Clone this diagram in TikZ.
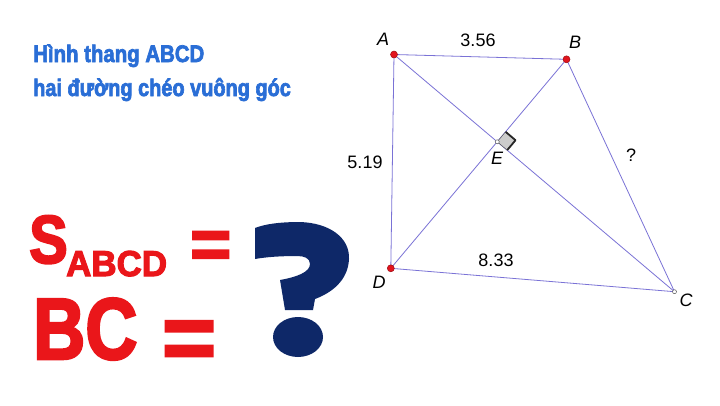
\documentclass[tikz,border=0pt]{standalone}
\usepackage{fontspec}
\setmainfont{Liberation Sans}
\newfontfamily\heavy[FakeBold=3]{Liberation Sans Bold}
\usepackage{graphicx}
\usetikzlibrary{calc}
\definecolor{tblue}{RGB}{42,110,214}
\definecolor{tred}{RGB}{234,22,26}
\definecolor{navy}{RGB}{14,40,104}
\definecolor{seg}{RGB}{122,114,214}
\definecolor{ptred}{RGB}{226,20,30}
\begin{document}
\begin{tikzpicture}[x=1pt,y=-1pt,
  seg/.style={draw=seg,line width=0.8pt},
  vpt/.style={circle,fill=ptred,draw=ptred!70!black,line width=0.5pt,inner sep=0pt,minimum size=7pt},
  opt/.style={circle,fill=white,draw=gray!70!black,line width=0.5pt,inner sep=0pt,minimum size=4pt},
  lab/.style={inner sep=0pt,font=\fontsize{18}{18}\selectfont\itshape},
  num/.style={inner sep=0pt,font=\fontsize{18}{18}\selectfont},
  title/.style={inner sep=0pt,anchor=base west,text=tblue,font=\fontsize{24}{24}\heavy},
  big/.style={inner sep=0pt,anchor=base west,text=tred,font=\heavy}]
\useasboundingbox (0,0) rectangle (720,405);
\fill[white] (0,0) rectangle (720,405);
% geometry
\coordinate (A) at (394,54.5);
\coordinate (B) at (566.5,59.3);
\coordinate (C) at (674.5,291.7);
\coordinate (D) at (390.8,268.3);
\coordinate (E) at (intersection of A--C and B--D);
\draw[seg] (A) -- (B) -- (C) -- (D) -- cycle;
\draw[seg] (A) -- (C);
\draw[seg] (B) -- (D);
% right angle marker
\coordinate (r1) at ($(E)!13pt!(B)$);
\coordinate (r3) at ($(E)!13pt!(C)$);
\coordinate (r2) at ($(r1)+(r3)-(E)$);
\fill[gray!40] (E) -- (r1) -- (r2) -- (r3) -- cycle;
\draw[black!85,line width=1.8pt,line join=round] (r1) -- (r2) -- (r3);
\draw[gray!60!black,line width=0.4pt] (E) -- (r1) (E) -- (r3);
% points
\node[vpt] (pA) at (A) {};
\node[vpt] (pB) at (B) {};
\node[vpt] (pD) at (D) {};
\node[opt] (pC) at (C) {};
\node[opt] (pE) at (E) {};
% labels
\node[lab] (lA) at (383,39) {A};
\node[lab] (lB) at (575,42) {B};
\node[lab] (lC) at (686,300) {C};
\node[lab] (lD) at (379,282) {D};
\node[lab] (lE) at (497,158) {E};
\node[num] (n356) at (478,40) {3.56};
\node[num] (n833) at (496,260) {8.33};
\node[num] (n519) at (365,162) {5.19};
\node[num] (nq) at (631,155) {?};
% titles
\node[title] (t1) at (33,62) {\scalebox{0.85}[1]{Hình thang ABCD}};
\node[title] (t2) at (33,96) {\scalebox{0.83}[1]{hai đường chéo vuông góc}};
% big red text
\node[big] (S) at (29,263) {\fontsize{68}{68}\selectfont\scalebox{0.85}[1]{S}};
\node[big] (sub) at (66,276) {\fontsize{36}{36}\selectfont\scalebox{0.97}[1]{ABCD}};
\node[big] (eq1) at (190,268) {\fontsize{70}{70}\selectfont =};
\node[big] (BC) at (33,359) {\fontsize{87}{87}\selectfont\scalebox{0.83}[1]{BC}};
\node[big] (eq2) at (162,369) {\fontsize{92}{92}\selectfont =};
% big question mark
\fill[navy] (255,228) .. controls (265,224) and (280,222) .. (300,222)
  .. controls (330,223) and (350,238) .. (349,259)
  .. controls (348,281) and (331,293) .. (315,299)
  -- (313,310) -- (285,310) -- (280,280)
  .. controls (297,277) and (310,272) .. (310,264)
  .. controls (310,258) and (304,256) .. (297,256)
  .. controls (281,256) and (266,257) .. (255,259) -- cycle;
\fill[navy] (298,337) ellipse [x radius=25, y radius=20];
\end{tikzpicture}
\end{document}
